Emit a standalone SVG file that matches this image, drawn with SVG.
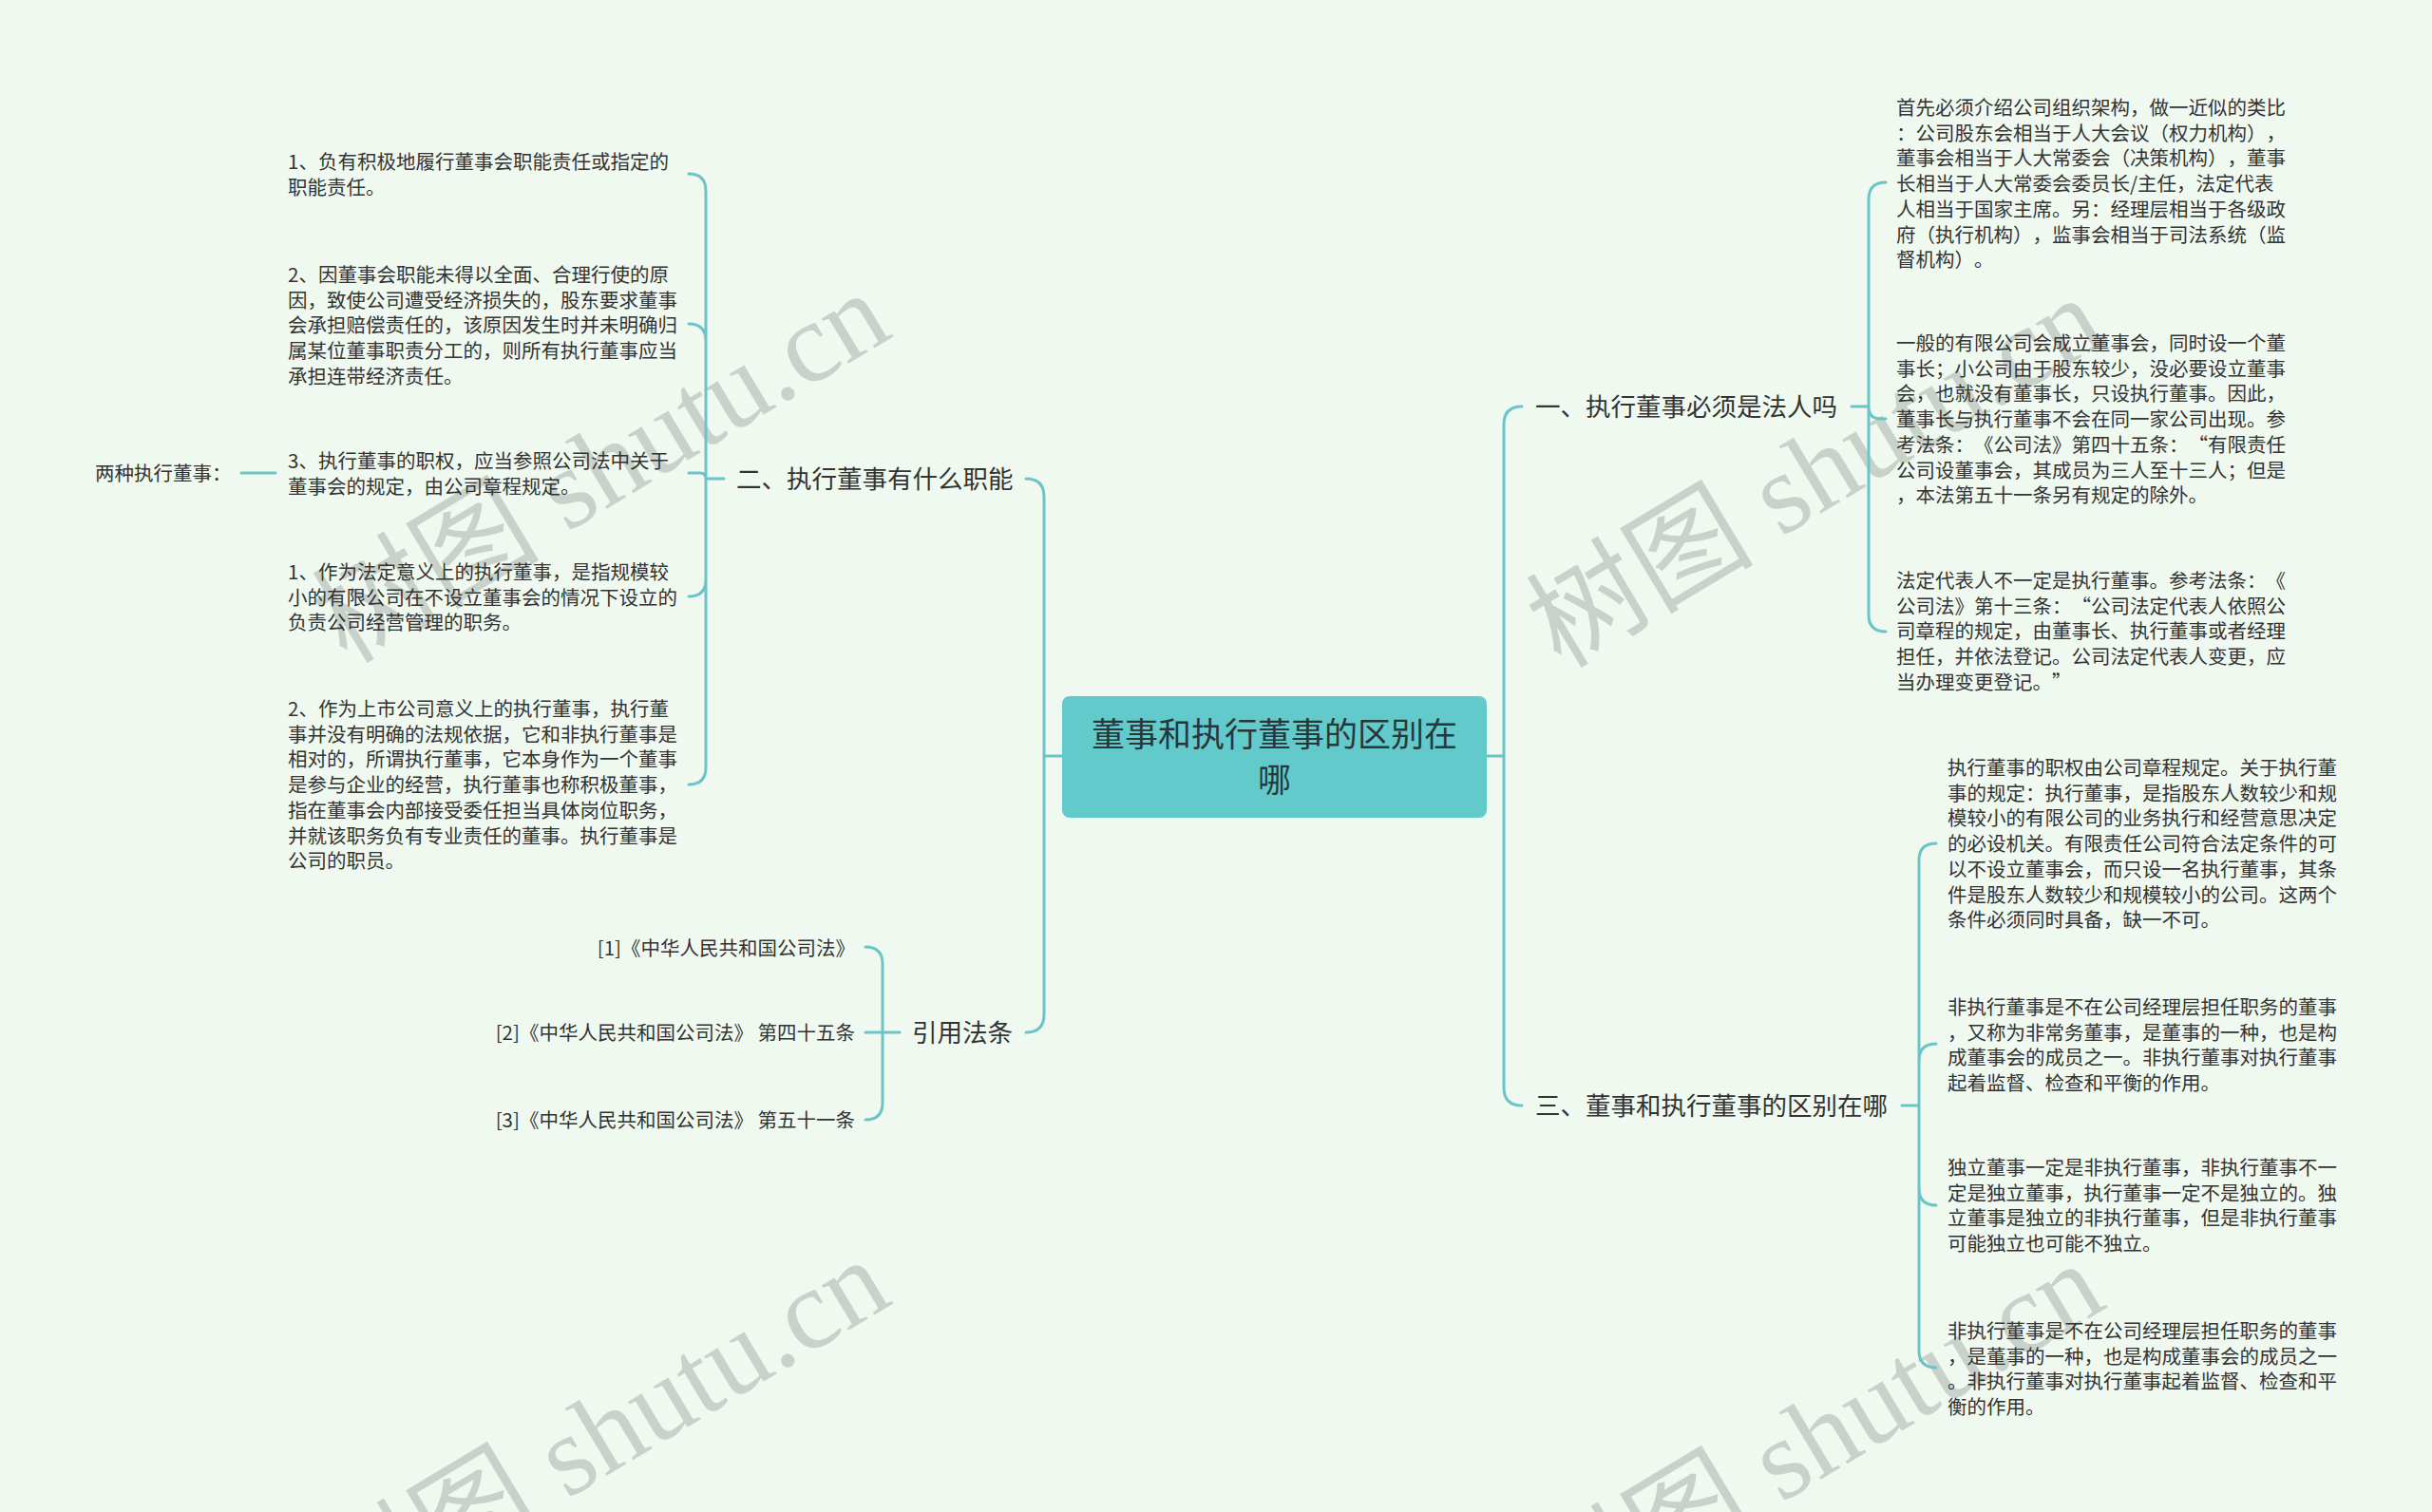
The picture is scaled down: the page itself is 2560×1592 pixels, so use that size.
<svg xmlns="http://www.w3.org/2000/svg" width="2560" height="1592" viewBox="0 0 2560 1592">
<style>
.lk{fill:none;stroke:#6BC4C8;stroke-width:3;stroke-linecap:round}
.tx{font-family:"Noto Sans CJK SC","Liberation Sans",sans-serif;fill:#333333;text-spacing-trim:space-all}
.lf{font-size:20.5px}
.br{font-size:26.5px}
.ct{font-size:35px;fill:#283838}
.wm{font-family:"Liberation Serif","Noto Sans CJK SC",serif;font-size:120px;fill:#C9D2CA}
</style>
<rect x="0" y="0" width="2560" height="1592" fill="#F0F9F0"/>
<g id="watermarks">
<text class="wm" transform="translate(365,700) rotate(-31)">树图 shutu.cn</text>
<text class="wm" transform="translate(1643,705) rotate(-31)">树图 shutu.cn</text>
<text class="wm" transform="translate(365,1718) rotate(-31)">树图 shutu.cn</text>
<text class="wm" transform="translate(1643,1722) rotate(-31)">树图 shutu.cn</text>
</g>
<g id="connectors">
<path class="lk" d="M1118,796 H1099 M1099,796 V523 Q1099,504 1080,504 M1099,796 V1068 Q1099,1087 1080,1087"/>
<path class="lk" d="M1564,796 H1583 M1583,796 V447 Q1583,428 1602,428 M1583,796 V1145 Q1583,1164 1602,1164"/>
<path class="lk" d="M1949,428 H1967 M1967,428 V210 Q1967,192 1985,192 M1967,428 Q1967,441 1980,441 H1985 M1967,428 V647 Q1967,665 1985,665"/>
<path class="lk" d="M2002,1164 H2020 M2020,1164 V906 Q2020,888 2038,888 M2020,1164 V1117 Q2020,1099 2038,1099 M2020,1164 V1251 Q2020,1269 2038,1269 M2020,1164 V1422 Q2020,1440 2038,1440"/>
<path class="lk" d="M762,504 H743 M743,504 V201 Q743,183 725,183 M743,504 V359 Q743,341 725,341 M743,504 Q743,498 737,498 H725 M743,504 V610 Q743,628 725,628 M743,504 V808 Q743,826 725,826"/>
<path class="lk" d="M290,498 H254"/>
<path class="lk" d="M947,1087 H929 M929,1087 V1015 Q929,997 911,997 M929,1087 H911 M929,1087 V1161 Q929,1179 911,1179"/>
</g>
<g id="root">
<rect x="1118" y="733" width="447" height="128" rx="8" fill="#63CACC"/>
<text class="tx ct" text-anchor="middle"><tspan x="1341.5" y="786">董事和执行董事的区别在</tspan><tspan x="1341.5" y="834">哪</tspan></text>
</g>
<g id="b1"><text class="tx br" x="1616" y="438">一、执行董事必须是法人吗</text></g>
<g id="b1-1"><text class="tx lf"><tspan x="1996" y="121">首先必须介绍公司组织架构，做一近似的类比</tspan><tspan x="1996" dy="26.7">：公司股东会相当于人大会议（权力机构），</tspan><tspan x="1996" dy="26.7">董事会相当于人大常委会（决策机构），董事</tspan><tspan x="1996" dy="26.7">长相当于人大常委会委员长/主任，法定代表</tspan><tspan x="1996" dy="26.7">人相当于国家主席。另：经理层相当于各级政</tspan><tspan x="1996" dy="26.7">府（执行机构），监事会相当于司法系统（监</tspan><tspan x="1996" dy="26.7">督机构）。</tspan></text></g>
<g id="b1-2"><text class="tx lf"><tspan x="1996" y="369">一般的有限公司会成立董事会，同时设一个董</tspan><tspan x="1996" dy="26.7">事长；小公司由于股东较少，没必要设立董事</tspan><tspan x="1996" dy="26.7">会，也就没有董事长，只设执行董事。因此，</tspan><tspan x="1996" dy="26.7">董事长与执行董事不会在同一家公司出现。参</tspan><tspan x="1996" dy="26.7">考法条：《公司法》第四十五条：“有限责任</tspan><tspan x="1996" dy="26.7">公司设董事会，其成员为三人至十三人；但是</tspan><tspan x="1996" dy="26.7">，本法第五十一条另有规定的除外。</tspan></text></g>
<g id="b1-3"><text class="tx lf"><tspan x="1996" y="619">法定代表人不一定是执行董事。参考法条：《</tspan><tspan x="1996" dy="26.7">公司法》第十三条：“公司法定代表人依照公</tspan><tspan x="1996" dy="26.7">司章程的规定，由董事长、执行董事或者经理</tspan><tspan x="1996" dy="26.7">担任，并依法登记。公司法定代表人变更，应</tspan><tspan x="1996" dy="26.7">当办理变更登记。”</tspan></text></g>
<g id="b3"><text class="tx br" x="1616" y="1174">三、董事和执行董事的区别在哪</text></g>
<g id="b3-1"><text class="tx lf"><tspan x="2050" y="816">执行董事的职权由公司章程规定。关于执行董</tspan><tspan x="2050" dy="26.7">事的规定：执行董事，是指股东人数较少和规</tspan><tspan x="2050" dy="26.7">模较小的有限公司的业务执行和经营意思决定</tspan><tspan x="2050" dy="26.7">的必设机关。有限责任公司符合法定条件的可</tspan><tspan x="2050" dy="26.7">以不设立董事会，而只设一名执行董事，其条</tspan><tspan x="2050" dy="26.7">件是股东人数较少和规模较小的公司。这两个</tspan><tspan x="2050" dy="26.7">条件必须同时具备，缺一不可。</tspan></text></g>
<g id="b3-2"><text class="tx lf"><tspan x="2050" y="1068">非执行董事是不在公司经理层担任职务的董事</tspan><tspan x="2050" dy="26.7">，又称为非常务董事，是董事的一种，也是构</tspan><tspan x="2050" dy="26.7">成董事会的成员之一。非执行董事对执行董事</tspan><tspan x="2050" dy="26.7">起着监督、检查和平衡的作用。</tspan></text></g>
<g id="b3-3"><text class="tx lf"><tspan x="2050" y="1237">独立董事一定是非执行董事，非执行董事不一</tspan><tspan x="2050" dy="26.7">定是独立董事，执行董事一定不是独立的。独</tspan><tspan x="2050" dy="26.7">立董事是独立的非执行董事，但是非执行董事</tspan><tspan x="2050" dy="26.7">可能独立也可能不独立。</tspan></text></g>
<g id="b3-4"><text class="tx lf"><tspan x="2050" y="1409">非执行董事是不在公司经理层担任职务的董事</tspan><tspan x="2050" dy="26.7">，是董事的一种，也是构成董事会的成员之一</tspan><tspan x="2050" dy="26.7">。非执行董事对执行董事起着监督、检查和平</tspan><tspan x="2050" dy="26.7">衡的作用。</tspan></text></g>
<g id="b2"><text class="tx br" x="775" y="514">二、执行董事有什么职能</text></g>
<g id="b2-1"><text class="tx lf"><tspan x="303" y="178">1、负有积极地履行董事会职能责任或指定的</tspan><tspan x="303" dy="26.7">职能责任。</tspan></text></g>
<g id="b2-2"><text class="tx lf"><tspan x="303" y="297">2、因董事会职能未得以全面、合理行使的原</tspan><tspan x="303" dy="26.7">因，致使公司遭受经济损失的，股东要求董事</tspan><tspan x="303" dy="26.7">会承担赔偿责任的，该原因发生时并未明确归</tspan><tspan x="303" dy="26.7">属某位董事职责分工的，则所有执行董事应当</tspan><tspan x="303" dy="26.7">承担连带经济责任。</tspan></text></g>
<g id="b2-3"><text class="tx lf"><tspan x="303" y="493">3、执行董事的职权，应当参照公司法中关于</tspan><tspan x="303" dy="26.7">董事会的规定，由公司章程规定。</tspan></text></g>
<g id="b2-3-1"><text class="tx lf" x="100" y="506">两种执行董事：</text></g>
<g id="b2-4"><text class="tx lf"><tspan x="303" y="610">1、作为法定意义上的执行董事，是指规模较</tspan><tspan x="303" dy="26.7">小的有限公司在不设立董事会的情况下设立的</tspan><tspan x="303" dy="26.7">负责公司经营管理的职务。</tspan></text></g>
<g id="b2-5"><text class="tx lf"><tspan x="303" y="754">2、作为上市公司意义上的执行董事，执行董</tspan><tspan x="303" dy="26.7">事并没有明确的法规依据，它和非执行董事是</tspan><tspan x="303" dy="26.7">相对的，所谓执行董事，它本身作为一个董事</tspan><tspan x="303" dy="26.7">是参与企业的经营，执行董事也称积极董事，</tspan><tspan x="303" dy="26.7">指在董事会内部接受委任担当具体岗位职务，</tspan><tspan x="303" dy="26.7">并就该职务负有专业责任的董事。执行董事是</tspan><tspan x="303" dy="26.7">公司的职员。</tspan></text></g>
<g id="b4"><text class="tx br" x="960" y="1097">引用法条</text></g>
<g id="b4-1"><text class="tx lf" text-anchor="end" x="900" y="1006">[1]《中华人民共和国公司法》</text></g>
<g id="b4-2"><text class="tx lf" text-anchor="end" x="900" y="1095">[2]《中华人民共和国公司法》 第四十五条</text></g>
<g id="b4-3"><text class="tx lf" text-anchor="end" x="900" y="1187">[3]《中华人民共和国公司法》 第五十一条</text></g>
</svg>
